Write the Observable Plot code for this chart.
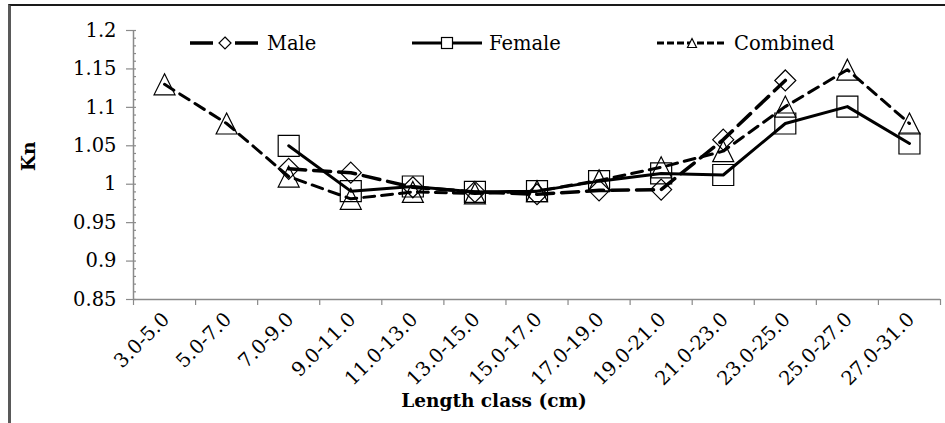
<!DOCTYPE html>
<html><head><meta charset="utf-8">
<script src="https://cdn.jsdelivr.net/npm/d3@7"></script>
<script src="https://cdn.jsdelivr.net/npm/@observablehq/plot@0.6"></script>
<style>
body{margin:0;background:#fff;}
#wrap{position:relative;width:945px;height:423px;overflow:hidden;font-family:"DejaVu Serif",serif;background:#fff;}
#frame{position:absolute;left:8px;top:4px;width:1000px;height:1000px;border-left:3px solid #595959;border-top:2px solid #1a1a1a;pointer-events:none;}
#chart{position:absolute;left:0;top:0;}
.item{position:absolute;top:30px;height:26px;display:flex;align-items:center;font-size:19.5px;color:#000;white-space:nowrap;}
.item svg{display:block;margin-right:7px;}
</style></head><body>
<div id="wrap"><div id="chart"></div><div id="frame"></div><div id="legend"></div></div>
<script>
const categories = ["3.0-5.0","5.0-7.0","7.0-9.0","9.0-11.0","11.0-13.0","13.0-15.0","15.0-17.0","17.0-19.0","19.0-21.0","21.0-23.0","23.0-25.0","25.0-27.0","27.0-31.0"];
const male     = [null, null, 1.020, 1.015, 0.996, 0.990, 0.987, 0.992, 0.993, 1.058, 1.135, null, null];
const female   = [null, null, 1.050, 0.991, 0.997, 0.990, 0.991, 1.004, 1.014, 1.012, 1.079, 1.101, 1.053];
const combined = [1.130, 1.079, 1.010, 0.981, 0.990, 0.988, 0.991, 1.005, 1.022, 1.043, 1.101, 1.149, 1.079];
const yTicks = [0.85, 0.9, 0.95, 1, 1.05, 1.1, 1.15, 1.2];
const yTickLabels = ["0.85", "0.9", "0.95", "1", "1.05", "1.1", "1.15", "1.2"];
const seriesNames = ["Male", "Female", "Combined"];
const yTitle = "Kn";
const xTitle = "Length class (cm)";

const axisGray = "#8a8a8a";

// Excel-like open marker shapes (r = half size)
const sq = {draw(c, size){const r = Math.sqrt(size/Math.PI); c.moveTo(-r,-r); c.lineTo(r,-r); c.lineTo(r,r); c.lineTo(-r,r); c.closePath();}};
const dm = {draw(c, size){const r = Math.sqrt(size/Math.PI); c.moveTo(0,-r); c.lineTo(r,0); c.lineTo(0,r); c.lineTo(-r,0); c.closePath();}};
const tr = {draw(c, size){const r = Math.sqrt(size/Math.PI); c.moveTo(0,-r); c.lineTo(r,r); c.lineTo(-r,r); c.closePath();}};

const rows = (vals) => vals.map((v, i) => ({i, cat: categories[i], v})).filter(d => d.v != null);
const maleRows = rows(male), femaleRows = rows(female), combRows = rows(combined);
const minorTicks = d3.range(85, 121).map(d => d / 100);
const xBounds = d3.range(0, categories.length + 1);
const noLabel = () => "";

const chart = Plot.plot({
  width: 945,
  height: 423,
  marginLeft: 133,
  marginRight: 5,
  marginTop: 30,
  marginBottom: 124,
  style: {fontFamily: "DejaVu Serif, serif", background: "transparent", color: "#000"},
  x: {type: "linear", domain: [0, categories.length]},
  y: {domain: [0.85, 1.2]},
  marks: [
    Plot.axisY({ticks: minorTicks, tickSize: -3, tickFormat: noLabel, label: null, stroke: axisGray, strokeWidth: 1.2}),
    Plot.axisY({ticks: yTicks, tickFormat: d => yTickLabels[yTicks.indexOf(d)], tickSize: 7, tickPadding: 10, fontSize: 19.5, label: null, stroke: axisGray, strokeWidth: 1.2}),
    Plot.axisX({ticks: xBounds, tickSize: 6, tickFormat: noLabel, label: null, stroke: axisGray, strokeWidth: 1.2}),
    Plot.ruleX([0], {stroke: axisGray, strokeWidth: 1.5}),
    Plot.ruleY([0.85], {stroke: axisGray, strokeWidth: 1.5}),
    Plot.text(categories, {x: (d, i) => i + 0.5, frameAnchor: "bottom", rotate: -45, textAnchor: "end", dx: 6, dy: 21, fontSize: 19.5, fill: "#000"}),
    Plot.text([yTitle], {frameAnchor: "left", rotate: -90, dx: -104, dy: 6, fontSize: 18.5, fontWeight: "bold", fill: "#000"}),
    Plot.text([xTitle], {frameAnchor: "bottom", dx: -43, dy: 107, fontSize: 18.5, fontWeight: "bold", fill: "#000"}),
    Plot.line(combRows, {x: d => d.i + 0.5, y: "v", stroke: "#000", strokeWidth: 3, strokeDasharray: "11,7"}),
    Plot.line(femaleRows, {x: d => d.i + 0.5, y: "v", stroke: "#000", strokeWidth: 3}),
    Plot.line(maleRows, {x: d => d.i + 0.5, y: "v", stroke: "#000", strokeWidth: 3.5, strokeDasharray: "17,8"}),
    Plot.dot(combRows, {x: d => d.i + 0.5, y: "v", symbol: tr, r: 10.5, stroke: "#000", strokeWidth: 1.2, fill: "none"}),
    Plot.dot(femaleRows, {x: d => d.i + 0.5, y: "v", symbol: sq, r: 10.5, stroke: "#000", strokeWidth: 1.2, fill: "none"}),
    Plot.dot(maleRows, {x: d => d.i + 0.5, y: "v", symbol: dm, r: 10.5, stroke: "#000", strokeWidth: 1.2, fill: "none"})
  ]
});
document.getElementById("chart").appendChild(chart);

// Legend (inside plot area, as in the reference)
const legendSpec = [
  {name: seriesNames[0], left: 190, w: 70, dash: "23,22", sw: 3.5, shape: "diamond", s: 6},
  {name: seriesNames[1], left: 412, w: 70, dash: null, sw: 3, shape: "square", s: 5.5},
  {name: seriesNames[2], left: 657, w: 70, dash: "7,3", sw: 3, shape: "triangle", s: 4.5}
];
const leg = document.getElementById("legend");
legendSpec.forEach(l => {
  const div = document.createElement("div");
  div.className = "item";
  div.style.left = l.left + "px";
  const h = 26, cy = 13, cx = l.w / 2;
  let shape;
  if (l.shape === "diamond") shape = `<path d="M${cx},${cy-l.s}L${cx+l.s},${cy}L${cx},${cy+l.s}L${cx-l.s},${cy}Z" fill="#fff" stroke="#000" stroke-width="1.2"/>`;
  else if (l.shape === "square") shape = `<rect x="${cx-l.s}" y="${cy-l.s}" width="${2*l.s}" height="${2*l.s}" fill="#fff" stroke="#000" stroke-width="1.2"/>`;
  else shape = `<path d="M${cx},${cy-l.s}L${cx+l.s},${cy+l.s}L${cx-l.s},${cy+l.s}Z" fill="#fff" stroke="#000" stroke-width="1.2"/>`;
  div.innerHTML = `<svg width="${l.w}" height="${h}"><line x1="0" x2="${l.w}" y1="${cy}" y2="${cy}" stroke="#000" stroke-width="${l.sw}" ${l.dash ? `stroke-dasharray="${l.dash}"` : ""}/>${shape}</svg><span>${l.name}</span>`;
  leg.appendChild(div);
});
</script>
</body></html>
